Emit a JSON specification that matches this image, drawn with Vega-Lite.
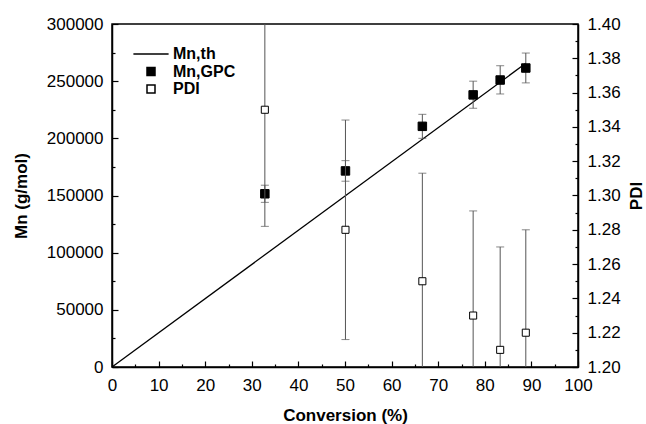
{
  "$schema": "https://vega.github.io/schema/vega-lite/v6.json",
  "width": 466,
  "height": 343,
  "autosize": {"type": "none"},
  "padding": {"left": 112, "top": 24, "right": 68, "bottom": 57},
  "background": "white",
  "config": {
    "font": "Liberation Sans",
    "view": {"stroke": "black", "strokeWidth": 1.5},
    "axis": {
      "grid": false,
      "domainColor": "black",
      "domainWidth": 1.5,
      "tickColor": "black",
      "tickWidth": 1.2,
      "labelFontSize": 17,
      "labelColor": "black",
      "titleFontSize": 17,
      "titleFontWeight": "bold",
      "titleColor": "black",
      "labelFlush": false,
      "labelOverlap": false
    },
    "legend": {
      "labelFontSize": 16,
      "labelFontWeight": "bold",
      "labelColor": "black",
      "symbolSize": 64,
      "labelOffset": 14,
      "rowPadding": 1.5,
      "padding": 0
    }
  },
  "datasets": {
    "theory": [
      {"conv": 0, "mn": 0, "series": "Mn,th"},
      {"conv": 88.8, "mn": 265600, "series": "Mn,th"}
    ],
    "gpc": [
      {"conv": 32.8, "mn": 151500, "mn_lo": 144000, "mn_hi": 159000, "series": "Mn,GPC"},
      {"conv": 50.1, "mn": 171500, "mn_lo": 162500, "mn_hi": 180500, "series": "Mn,GPC"},
      {"conv": 66.6, "mn": 210500, "mn_lo": 200000, "mn_hi": 221000, "series": "Mn,GPC"},
      {"conv": 77.5, "mn": 238000, "mn_lo": 226300, "mn_hi": 250000, "series": "Mn,GPC"},
      {"conv": 83.3, "mn": 251000, "mn_lo": 238800, "mn_hi": 263500, "series": "Mn,GPC"},
      {"conv": 88.8, "mn": 261500, "mn_lo": 248500, "mn_hi": 274600, "series": "Mn,GPC"}
    ],
    "pdi": [
      {"conv": 32.8, "pdi": 1.35, "pdi_lo": 1.282, "pdi_hi": 1.418, "series": "PDI"},
      {"conv": 50.1, "pdi": 1.28, "pdi_lo": 1.216, "pdi_hi": 1.344, "series": "PDI"},
      {"conv": 66.6, "pdi": 1.25, "pdi_lo": 1.187, "pdi_hi": 1.313, "series": "PDI"},
      {"conv": 77.5, "pdi": 1.23, "pdi_lo": 1.169, "pdi_hi": 1.291, "series": "PDI"},
      {"conv": 83.3, "pdi": 1.21, "pdi_lo": 1.15, "pdi_hi": 1.27, "series": "PDI"},
      {"conv": 88.8, "pdi": 1.22, "pdi_lo": 1.16, "pdi_hi": 1.28, "series": "PDI"}
    ]
  },
  "resolve": {"scale": {"y": "independent"}},
  "layer": [
    {
      "resolve": {"axis": {"x": "independent", "y": "independent"}},
      "layer": [
        {
          "data": {"name": "theory"},
          "mark": {"type": "line", "color": "black", "strokeWidth": 1.3},
          "encoding": {
            "x": {
              "field": "conv", "type": "quantitative",
              "scale": {"domain": [0, 100], "nice": false, "zero": false},
              "axis": {
                "orient": "bottom",
                "title": "Conversion (%)",
                "values": [0,10,20,30,40,50,60,70,80,90,100],
                "tickSize": -6,
                "labelPadding": 16,
                "titlePadding": 14
              }
            },
            "y": {
              "field": "mn", "type": "quantitative",
              "scale": {"domain": [0, 300000], "nice": false},
              "axis": {
                "orient": "left",
                "title": "Mn (g/mol)",
                "values": [0,50000,100000,150000,200000,250000,300000],
                "format": "d",
                "tickSize": -6,
                "labelPadding": 15,
                "titlePadding": 16
              }
            }
          }
        },
        {
          "data": {"name": "gpc"},
          "mark": {"type": "rule", "color": "#555555", "strokeWidth": 1},
          "encoding": {
            "x": {"field": "conv", "type": "quantitative", "axis": null},
            "y": {
              "field": "mn_lo", "type": "quantitative",
              "axis": {
                "orient": "left",
                "title": null,
                "values": [25000,75000,125000,175000,225000,275000],
                "labels": false,
                "domain": false,
                "tickSize": -3
              }
            },
            "y2": {"field": "mn_hi"}
          }
        },
        {
          "data": {"name": "gpc"},
          "mark": {"type": "tick", "orient": "horizontal", "color": "#555555", "size": 8, "thickness": 1},
          "encoding": {
            "x": {
              "field": "conv", "type": "quantitative",
              "axis": {
                "orient": "bottom",
                "title": null,
                "values": [5,15,25,35,45,55,65,75,85,95],
                "labels": false,
                "domain": false,
                "tickSize": -3
              }
            },
            "y": {"field": "mn_lo", "type": "quantitative", "axis": null}
          }
        },
        {
          "data": {"name": "gpc"},
          "mark": {"type": "tick", "orient": "horizontal", "color": "#555555", "size": 8, "thickness": 1},
          "encoding": {
            "x": {"field": "conv", "type": "quantitative", "axis": null},
            "y": {"field": "mn_hi", "type": "quantitative", "axis": null}
          }
        },
        {
          "data": {"name": "gpc"},
          "mark": {"type": "point", "filled": true, "stroke": "black", "strokeWidth": 1, "size": 72, "opacity": 1},
          "encoding": {
            "x": {"field": "conv", "type": "quantitative", "axis": null},
            "y": {"field": "mn", "type": "quantitative", "axis": null},
            "shape": {
              "field": "series", "type": "nominal",
              "scale": {"domain": ["Mn,th", "Mn,GPC", "PDI"], "range": ["M-4.4,0H4.4", "square", "square"]},
              "legend": {
                "orient": "none", "legendX": 31, "legendY": 22, "title": null,
                "encode": {"symbols": {"update": {"stroke": {"value": "black"}, "strokeWidth": {"value": 1.2}, "opacity": {"value": 1}}}}
              }
            },
            "fill": {
              "field": "series", "type": "nominal",
              "scale": {"domain": ["Mn,th", "Mn,GPC", "PDI"], "range": ["black", "black", "white"]},
              "legend": {
                "orient": "none", "legendX": 31, "legendY": 22, "title": null,
                "encode": {"symbols": {"update": {"stroke": {"value": "black"}, "strokeWidth": {"value": 1.2}, "opacity": {"value": 1}}}}
              }
            }
          }
        }
      ]
    },
    {
      "resolve": {"axis": {"y": "independent"}},
      "layer": [
        {
          "data": {"name": "pdi"},
          "mark": {"type": "rule", "color": "#555555", "strokeWidth": 1, "clip": true},
          "encoding": {
            "x": {"field": "conv", "type": "quantitative", "axis": null},
            "y": {
              "field": "pdi_lo", "type": "quantitative",
              "scale": {"domain": [1.2, 1.4], "nice": false, "zero": false},
              "axis": {
                "orient": "right",
                "title": "PDI",
                "values": [1.2,1.22,1.24,1.26,1.28,1.3,1.32,1.34,1.36,1.38,1.4],
                "format": ".2f",
                "tickSize": -6,
                "labelPadding": 15,
                "titlePadding": 8,
                "titleAngle": 270,
                "titleBaseline": "top"
              }
            },
            "y2": {"field": "pdi_hi"}
          }
        },
        {
          "data": {"name": "pdi"},
          "mark": {"type": "tick", "orient": "horizontal", "color": "#555555", "size": 8, "thickness": 1, "clip": true},
          "encoding": {
            "x": {"field": "conv", "type": "quantitative", "axis": null},
            "y": {
              "field": "pdi_lo", "type": "quantitative",
              "axis": {
                "orient": "right",
                "title": null,
                "values": [1.21,1.23,1.25,1.27,1.29,1.31,1.33,1.35,1.37,1.39],
                "labels": false,
                "domain": false,
                "tickSize": -3
              }
            }
          }
        },
        {
          "data": {"name": "pdi"},
          "mark": {"type": "tick", "orient": "horizontal", "color": "#555555", "size": 8, "thickness": 1, "clip": true},
          "encoding": {
            "x": {"field": "conv", "type": "quantitative", "axis": null},
            "y": {"field": "pdi_hi", "type": "quantitative", "axis": null}
          }
        },
        {
          "data": {"name": "pdi"},
          "mark": {"type": "point", "filled": true, "stroke": "black", "strokeWidth": 1, "size": 50, "opacity": 1},
          "encoding": {
            "x": {"field": "conv", "type": "quantitative", "axis": null},
            "y": {"field": "pdi", "type": "quantitative", "axis": null},
            "shape": {"field": "series", "type": "nominal"},
            "fill": {"field": "series", "type": "nominal"}
          }
        }
      ]
    }
  ]
}
